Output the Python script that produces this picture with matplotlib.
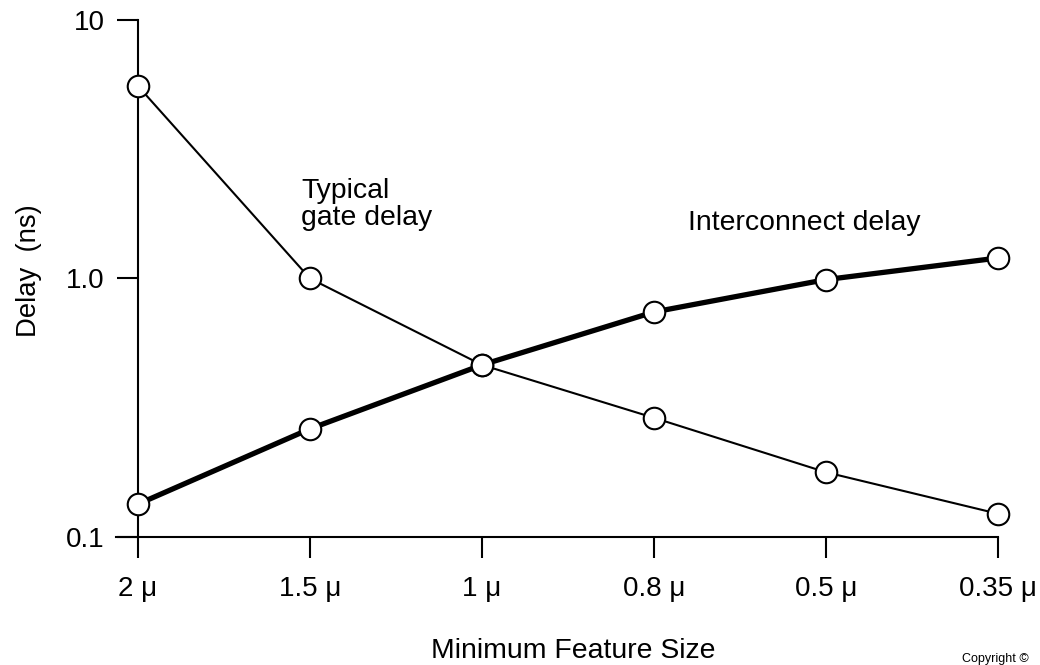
import matplotlib
matplotlib.use("Agg")
import matplotlib.pyplot as plt

plt.rcParams['font.family'] = ['Liberation Sans', 'DejaVu Sans']

categories = ["2 μ", "1.5 μ", "1 μ", "0.8 μ", "0.5 μ", "0.35 μ"]
gate_delay = [5.55, 1.0, 0.463, 0.289, 0.178, 0.123]
interconnect_delay = [0.134, 0.262, 0.463, 0.742, 0.99, 1.20]
y_ticks = [0.1, 1.0, 10]
y_tick_labels = ["0.1", "1.0", "10"]

W, H = 1040, 665
fig = plt.figure(figsize=(W / 100, H / 100), dpi=100)
ax = fig.add_axes([0.1115, 0.1925, 0.9596 - 0.1115, 0.970 - 0.1925])

x = list(range(len(categories)))
mk = dict(marker='o', markersize=15.5, markerfacecolor='white',
          markeredgecolor='black', markeredgewidth=1.5, clip_on=False, zorder=3)
ax.plot(x, gate_delay, color='black', linewidth=1.5, **mk)
ax.plot(x, interconnect_delay, color='black', linewidth=3.8, **mk)

ax.set_yscale('log')
ax.set_ylim(0.1, 10)
ax.set_xlim(-0.128, 5)
ax.set_yticks(y_ticks)
ax.set_yticklabels(y_tick_labels)
ax.yaxis.set_minor_locator(matplotlib.ticker.NullLocator())
ax.set_xticks(x)
ax.set_xticklabels(categories)

for s in ['top', 'right']:
    ax.spines[s].set_visible(False)
ax.spines['left'].set_position(('data', 0))
ax.spines['left'].set_linewidth(1.5)
ax.spines['bottom'].set_linewidth(1.5)

ax.tick_params(axis='both', direction='out', length=15, width=1.5, labelsize=20)
ax.tick_params(axis='y', pad=8.8)
ax.tick_params(axis='x', pad=13)

fig.text(573.5 / W, 1 - 658 / H, "Minimum Feature Size", fontsize=20.4,
         ha='center', va='baseline')
fig.text(29 / W, 1 - 271 / H, "Delay  (ns)", rotation=90, fontsize=19.8,
         ha='center', va='center')

fig.text(301 / W, 1 - 198 / H, "Typical", fontsize=20.4, ha='left', va='baseline')
fig.text(301 / W, 1 - 225 / H, "gate delay", fontsize=20.4, ha='left', va='baseline')
fig.text(688 / W, 1 - 230 / H, "Interconnect delay", fontsize=20.4,
         ha='left', va='baseline')
fig.text(962 / W, 1 - 662 / H, "Copyright ©", fontsize=9,
         ha='left', va='baseline')

fig.savefig("out.png", dpi=100)
